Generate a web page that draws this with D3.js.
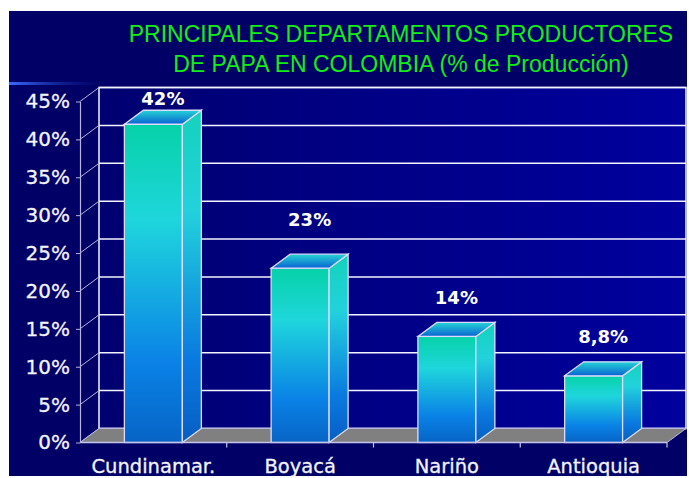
<!DOCTYPE html>
<html>
<head>
<meta charset="utf-8">
<script src="https://cdn.jsdelivr.net/npm/d3@7/dist/d3.min.js"></script>
<style>
    body { margin: 0; background: #fff; }
</style>
</head>
<body>
<div class="svg-class"></div>
<script>
// chart data
var departamentos = ["Cundinamar.", "Boyacá", "Nariño", "Antioquia"];
var produccion = [42, 23, 14, 8.8];
var yTicks = [0, 5, 10, 15, 20, 25, 30, 35, 40, 45];
var titulo = ["PRINCIPALES DEPARTAMENTOS PRODUCTORES", "DE PAPA EN COLOMBIA (% de Producción)"];

// value labels were dragged by hand in the original, so each one sits at its own gap (px)
var labelGap = [19, 42, 32, 33];

var width = 689,
    height = 478,
    dx = 19,      // 3d depth, to the right
    dy = -14;     // 3d depth, upwards

var esCO = d3.formatLocale({ decimal: ",", thousands: ".", grouping: [3], currency: ["$", ""] });
var fmt = esCO.format("~g");

var svg = d3.select(".svg-class")
    .append("svg")
    .attr("width", width)
    .attr("height", height);

var defs = svg.append("defs");

function vGrad(id, stops, x1, y1, x2, y2) {
    var g = defs.append("linearGradient")
        .attr("id", id)
        .attr("x1", x1).attr("y1", y1)
        .attr("x2", x2).attr("y2", y2);
    stops.forEach(function (s) {
        g.append("stop").attr("offset", s[0]).attr("stop-color", s[1]).attr("stop-opacity", s[2] == null ? 1 : s[2]);
    });
}
vGrad("gFront", [["0%", "#06d2a8"], ["30%", "#1fd6dc"], ["75%", "#0a82e6"], ["100%", "#0764c6"]], 0, 0, 0, 1);
vGrad("gSide", [["0%", "#14d2bc"], ["30%", "#22d2dc"], ["75%", "#0a7ae0"], ["100%", "#075ec4"]], 0, 0, 0, 1);
vGrad("gTop", [["0%", "#24d4d4"], ["100%", "#0a62d2"]], 0, 0, 0, 1);
vGrad("gWall", [["0%", "#000070"], ["100%", "#00009e"]], 0, 0, 1, 0);
vGrad("gGlow", [["0%", "#3a6cff"], ["100%", "#000066", 0]], 0, 0, 1, 0);

// slide background
svg.append("rect")
    .attr("x", 9).attr("y", 11)
    .attr("width", 678).attr("height", 465)
    .attr("fill", "#000066");

svg.append("rect")
    .attr("x", 9).attr("y", 82)
    .attr("width", 110).attr("height", 3)
    .attr("fill", "url(#gGlow)");

// scales
var x = d3.scaleBand()
    .domain(departamentos)
    .range([80, 667])
    .paddingInner(0.605)
    .paddingOuter(0.3025);

var y = d3.scaleLinear()
    .domain([0, 45])
    .range([442.5, 101.5]);

var x0 = x.range()[0], x1 = x.range()[1];
var yBase = y(0), yTop = y(45);

// back wall
svg.append("rect")
    .attr("x", x0 + dx)
    .attr("y", yTop + dy)
    .attr("width", x1 - x0)
    .attr("height", yBase - yTop)
    .attr("fill", "url(#gWall)")
    .attr("stroke", "#f4f4ff")
    .attr("stroke-width", 1.5);

// gridlines on the back wall
svg.append("g")
    .selectAll("line")
    .data(yTicks)
    .enter()
    .append("line")
    .attr("x1", x0 + dx)
    .attr("x2", x1 + dx)
    .attr("y1", function (d) { return y(d) + dy; })
    .attr("y2", function (d) { return y(d) + dy; })
    .attr("stroke", "#f4f4ff")
    .attr("stroke-width", 1.5);

// left side wall diagonals
svg.append("g")
    .selectAll("line")
    .data(yTicks)
    .enter()
    .append("line")
    .attr("x1", x0)
    .attr("x2", x0 + dx)
    .attr("y1", function (d) { return y(d); })
    .attr("y2", function (d) { return y(d) + dy; })
    .attr("stroke", "#b4b4dc")
    .attr("stroke-width", 1);

// floor
svg.append("polygon")
    .attr("points", [[x0, yBase], [x0 + dx, yBase + dy], [x1 + dx, yBase + dy], [x1, yBase]].join(" "))
    .attr("fill", "#808080")
    .attr("stroke", "#b8b8e0")
    .attr("stroke-width", 1);

// bars
var bar = svg.selectAll(".bar")
    .data(produccion)
    .enter()
    .append("g")
    .attr("class", "bar");

var bw = x.bandwidth();

bar.append("rect")
    .attr("x", function (d, i) { return x(departamentos[i]); })
    .attr("y", function (d) { return y(d); })
    .attr("width", bw)
    .attr("height", function (d) { return yBase - y(d); })
    .attr("fill", "url(#gFront)")
    .attr("stroke", "#dcdcff")
    .attr("stroke-width", 1.3);

bar.append("polygon")
    .attr("points", function (d, i) {
        var r = x(departamentos[i]) + bw;
        return [[r, y(d)], [r + dx, y(d) + dy], [r + dx, yBase + dy], [r, yBase]].join(" ");
    })
    .attr("fill", "url(#gSide)")
    .attr("stroke", "#dcdcff")
    .attr("stroke-width", 1.3);

bar.append("polygon")
    .attr("points", function (d, i) {
        var l = x(departamentos[i]);
        return [[l, y(d)], [l + dx, y(d) + dy], [l + bw + dx, y(d) + dy], [l + bw, y(d)]].join(" ");
    })
    .attr("fill", "url(#gTop)")
    .attr("stroke", "#dcdcff")
    .attr("stroke-width", 1.3);

// front edge of the floor + category boundary ticks
var bounds = departamentos.slice(1).map(function (c) {
    return x(c) - (x.step() - bw) / 2;
}).concat([x1]);

svg.append("line")
    .attr("x1", x0).attr("x2", x1)
    .attr("y1", yBase).attr("y2", yBase)
    .attr("stroke", "#c4c4ec")
    .attr("stroke-width", 1.5);

svg.append("g")
    .selectAll("line")
    .data(bounds)
    .enter()
    .append("line")
    .attr("x1", function (d) { return d; })
    .attr("x2", function (d) { return d; })
    .attr("y1", yBase)
    .attr("y2", yBase + 5)
    .attr("stroke", "#c4c4ec")
    .attr("stroke-width", 1.2);

// y axis
var yAxis = d3.axisLeft(y)
    .tickValues(yTicks)
    .tickSizeInner(4)
    .tickSizeOuter(0)
    .tickPadding(6)
    .tickFormat(function (d) { return d + "%"; });

var gy = svg.append("g")
    .attr("transform", "translate(" + x0 + ",0)")
    .call(yAxis);
gy.select(".domain").attr("stroke", "#b4b4dc").attr("stroke-width", 1.2);
gy.selectAll(".tick line").attr("stroke", "#b4b4dc");
gy.selectAll(".tick text")
    .attr("fill", "#f4f4ff")
    .attr("stroke", "#f4f4ff")
    .attr("stroke-width", 0.3)
    .style("font-family", "DejaVu Sans, Verdana, sans-serif")
    .style("font-size", "20px");

// x axis labels
var xAxis = d3.axisBottom(x)
    .tickSize(0)
    .tickPadding(17);

var gx = svg.append("g")
    .attr("transform", "translate(0," + yBase + ")")
    .call(xAxis);
gx.select(".domain").remove();
gx.selectAll(".tick text")
    .attr("fill", "#f4f4ff")
    .attr("stroke", "#f4f4ff")
    .attr("stroke-width", 0.3)
    .style("font-family", "DejaVu Sans, Verdana, sans-serif")
    .style("font-size", "19.5px");

// value labels
svg.append("g")
    .selectAll("text")
    .data(produccion)
    .enter()
    .append("text")
    .attr("x", function (d, i) { return x(departamentos[i]) + bw / 2 + dx / 2; })
    .attr("y", function (d, i) { return y(d) - labelGap[i]; })
    .attr("text-anchor", "middle")
    .attr("fill", "#ffffff")
    .style("font-family", "DejaVu Sans, Verdana, sans-serif")
    .style("font-weight", "bold")
    .style("font-size", "18px")
    .text(function (d) { return fmt(d) + "%"; });

// title
svg.append("g")
    .selectAll("text")
    .data(titulo)
    .enter()
    .append("text")
    .attr("x", 401)
    .attr("y", function (d, i) { return 42 + i * 30; })
    .attr("text-anchor", "middle")
    .attr("fill", "#14ee14")
    .style("font-family", "Liberation Sans, Arial, sans-serif")
    .style("font-size", "23px")
    .text(function (d) { return d; });
</script>
</body>
</html>
